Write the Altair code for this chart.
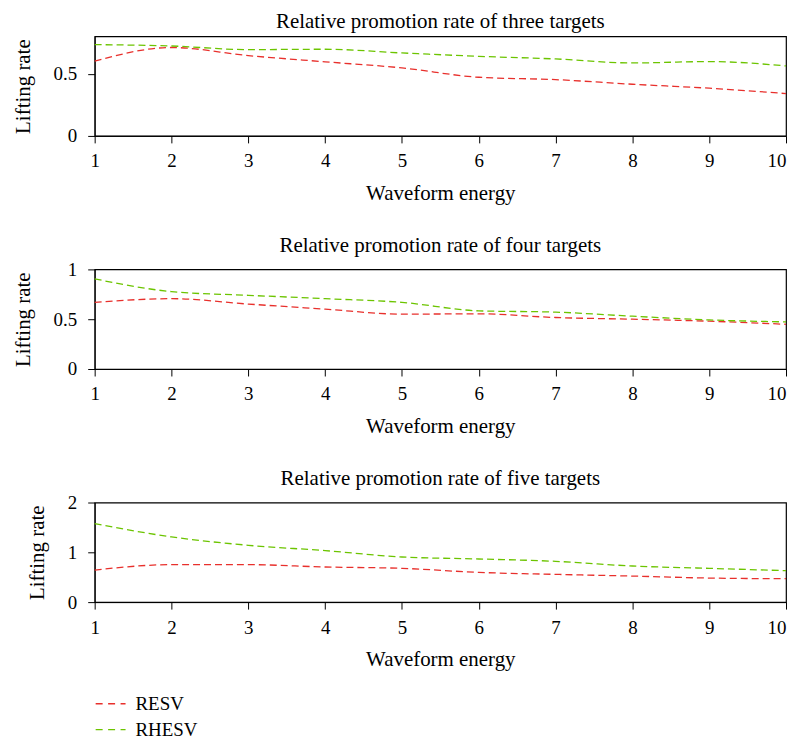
import altair as alt
import pandas as pd

energy = [1, 2, 3, 4, 5, 6, 7, 8, 9, 10]

resv_three = [0.60, 0.71, 0.645, 0.595, 0.546, 0.471, 0.452, 0.415, 0.383, 0.340]
rhesv_three = [0.733, 0.722, 0.693, 0.696, 0.666, 0.639, 0.618, 0.586, 0.597, 0.562]

resv_four = [0.669, 0.706, 0.652, 0.601, 0.551, 0.554, 0.517, 0.500, 0.480, 0.449]
rhesv_four = [0.905, 0.777, 0.740, 0.706, 0.669, 0.584, 0.571, 0.530, 0.493, 0.473]

resv_five = [0.644, 0.752, 0.752, 0.705, 0.678, 0.597, 0.557, 0.523, 0.483, 0.470]
rhesv_five = [1.577, 1.309, 1.141, 1.034, 0.906, 0.866, 0.819, 0.725, 0.678, 0.631]

titles = ["Relative promotion rate of three targets",
          "Relative promotion rate of four targets",
          "Relative promotion rate of five targets"]
ymaxes = [0.8, 1.0, 2.0]
yticks = [[0, 0.5], [0, 0.5, 1], [0, 1, 2]]
series_names = ["RESV", "RHESV"]
colors = ["#E8302C", "#6CC400"]

FONT = "Liberation Serif"


def panel(title, resv, rhesv, ymax, ticks):
    rows = []
    for e, a, b in zip(energy, resv, rhesv):
        rows.append({"energy": e, "series": "RESV", "value": a})
        rows.append({"energy": e, "series": "RHESV", "value": b})
    df = pd.DataFrame(rows)
    return alt.Chart(df, title=alt.Title(title)).mark_line(
        strokeDash=[7, 4], strokeWidth=1.3, interpolate="monotone"
    ).encode(
        x=alt.X("energy:Q", title="Waveform energy",
                scale=alt.Scale(domain=[1, 10], nice=False),
                axis=alt.Axis(values=energy, format="d",
                              labelAlign=alt.ExprRef(
                                  "datum.value == 10 ? 'right' : 'center'"))),
        y=alt.Y("value:Q", title="Lifting rate",
                scale=alt.Scale(domain=[0, ymax], nice=False),
                axis=alt.Axis(values=ticks, format="~g")),
        color=alt.Color("series:N", title=None,
                        scale=alt.Scale(domain=series_names, range=colors),
                        legend=alt.Legend(orient="bottom", direction="vertical",
                                          symbolType="stroke", symbolStrokeWidth=1.3,
                                          symbolDash=[7, 5.5], symbolSize=900,
                                          labelFontSize=19, labelFont=FONT,
                                          labelColor="black", labelOffset=9,
                                          rowPadding=0, offset=17)),
    ).properties(width=694, height=100)


charts = [
    panel(titles[0], resv_three, rhesv_three, ymaxes[0], yticks[0]),
    panel(titles[1], resv_four, rhesv_four, ymaxes[1], yticks[1]),
    panel(titles[2], resv_five, rhesv_five, ymaxes[2], yticks[2]),
]

chart = alt.vconcat(*charts, spacing=29).properties(
    padding={"left": 3, "top": 0, "right": 0, "bottom": -3}
).configure_view(
    stroke="black", strokeWidth=1.2
).configure_axis(
    grid=False, domainColor="black", tickColor="black", tickSize=7,
    labelFont=FONT, labelFontSize=19, labelColor="black",
    titleFont=FONT, titleFontSize=21, titleColor="black", titleFontWeight="normal",
    labelFlush=False
).configure_axisX(
    labelPadding=9, titlePadding=12
).configure_axisY(
    labelPadding=11, titlePadding=20
).configure_title(
    font=FONT, fontSize=21, fontWeight="normal", color="black", offset=4.5
)

chart.save("out.html", embed_options={"renderer": "svg", "actions": False})
